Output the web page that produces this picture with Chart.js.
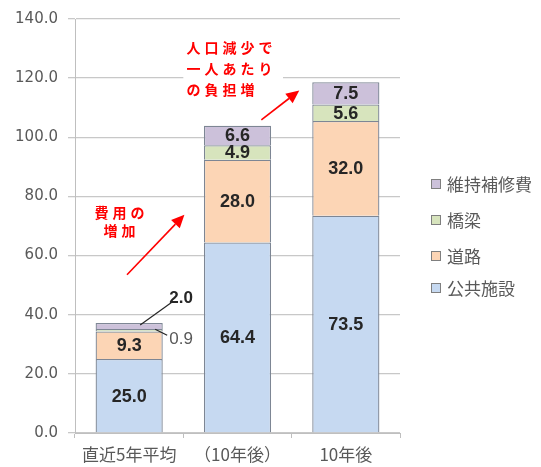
<!DOCTYPE html>
<html><head><meta charset="utf-8">
<script src="https://cdn.jsdelivr.net/npm/chart.js@4/dist/chart.umd.min.js"></script>
<style>html,body{margin:0;padding:0;background:#fff;}#wrap{width:541px;height:467px;position:relative;}</style>
</head><body><div id="wrap"><canvas id="c" width="541" height="467"></canvas></div>
<script>
const categories = ["直近5年平均", "（10年後）", "10年後"];
const seriesNames = ["公共施設", "道路", "橋梁", "維持補修費"];
const publicFacilities = [25.0, 64.4, 73.5];
const roads = [9.3, 28.0, 32.0];
const bridges = [0.9, 4.9, 5.6];
const maintenance = [2.0, 6.6, 7.5];
const yTicks = [0, 20, 40, 60, 80, 100, 120, 140];
const fills = ["#c6d9f1", "#fcd5b5", "#d7e4bd", "#ccc1da"];
const noteTop = ["人口減少で", "一人あたり", "の負担増"];
const noteLeft = ["費用の", "増加"];

const CJK = '"Noto Sans CJK JP", "Noto Sans", sans-serif';
const values = [publicFacilities, roads, bridges, maintenance];

const labelPlugin = {
  id: 'labels',
  afterDatasetsDraw(chart) {
    const ctx = chart.ctx;
    ctx.save();
    ctx.textAlign = 'center';
    ctx.textBaseline = 'middle';
    chart.data.datasets.forEach((ds, di) => {
      const meta = chart.getDatasetMeta(di);
      meta.data.forEach((el, i) => {
        const v = ds.data[i];
        const txt = v.toFixed(1);
        const cy = (el.y + el.base) / 2;
        if (i === 0 && di >= 2) {
          ctx.strokeStyle = '#262626';
          ctx.lineWidth = 1.2;
          ctx.beginPath();
          if (di === 3) {
            ctx.moveTo(el.x + 11, cy - 1);
            ctx.lineTo(el.x + 43, cy - 24);
            ctx.stroke();
            ctx.fillStyle = '#262626';
            ctx.font = 'bold 17px "Liberation Sans", Arial, sans-serif';
            ctx.fillText(txt, el.x + 52, cy - 28);
          } else {
            ctx.moveTo(el.x + 26, cy - 1);
            ctx.lineTo(el.x + 38, cy + 5);
            ctx.stroke();
            ctx.fillStyle = '#595959';
            ctx.font = '17px "Liberation Sans", Arial, sans-serif';
            ctx.fillText(txt, el.x + 52, cy + 9);
          }
          return;
        }
        ctx.fillStyle = '#262626';
        ctx.font = 'bold 18px "Liberation Sans", Arial, sans-serif';
        ctx.fillText(txt, el.x, cy + 1);
      });
    });
    ctx.restore();
  },
  afterDraw(chart) {
    const ctx = chart.ctx;
    const xs = chart.scales.x, ys = chart.scales.y;
    const X = v => xs.getPixelForValue(0) + v * (xs.getPixelForValue(1) - xs.getPixelForValue(0));
    const Y = v => ys.getPixelForValue(v);
    ctx.save();
    ctx.fillStyle = '#fff';
    ctx.fillRect(X(0.5), Y(133), X(1.42) - X(0.5), Y(113) - Y(133));
    function arrow(x1, y1, x2, y2) {
      ctx.strokeStyle = '#ff0000';
      ctx.fillStyle = '#ff0000';
      ctx.lineWidth = 1.6;
      const a = Math.atan2(y2 - y1, x2 - x1);
      const hl = 13, hw = 6;
      const bx = x2 - hl * Math.cos(a), by = y2 - hl * Math.sin(a);
      ctx.beginPath(); ctx.moveTo(x1, y1); ctx.lineTo(bx, by); ctx.stroke();
      ctx.beginPath();
      ctx.moveTo(x2, y2);
      ctx.lineTo(bx + hw * Math.sin(a), by - hw * Math.cos(a));
      ctx.lineTo(bx - hw * Math.sin(a), by + hw * Math.cos(a));
      ctx.closePath(); ctx.fill();
    }
    arrow(X(-0.02), Y(53.5), X(0.51), Y(73.8));
    arrow(X(1.22), Y(105.9), X(1.57), Y(115.8));
    ctx.fillStyle = '#ff0000';
    ctx.font = 'bold 14px ' + CJK;
    ctx.textBaseline = 'middle';
    ctx.textAlign = 'left';
    const adv = 18;
    noteTop.forEach((line, li) => {
      const y = Y(130.3 - li * 7.1);
      [...line].forEach((ch, k) => ctx.fillText(ch, X(0.53) + k * adv, y));
    });
    noteLeft.forEach((line, li) => {
      const y = Y(74.5 - li * 6.0);
      const w = line.length * adv;
      const cx = X(-0.08);
      [...line].forEach((ch, k) => ctx.fillText(ch, cx - w / 2 + k * adv + 1, y));
    });
    const legY = [184, 220, 256, 288];
    ctx.font = '17px ' + CJK;
    ctx.textBaseline = 'middle';
    for (let k = 3; k >= 0; k--) {
      const y = legY[3 - k];
      ctx.fillStyle = fills[k];
      ctx.fillRect(431, y - 5, 10, 10);
      ctx.strokeStyle = '#7f7f7f';
      ctx.lineWidth = 1;
      ctx.strokeRect(431.5, y - 4.5, 9, 9);
      ctx.fillStyle = '#595959';
      ctx.fillText(seriesNames[k], 447, y + 1);
    }
    ctx.restore();
  }
};

new Chart(document.getElementById('c'), {
  type: 'bar',
  data: {
    labels: categories,
    datasets: values.map((d, i) => ({
      label: seriesNames[i],
      data: d,
      backgroundColor: fills[i],
      borderColor: '#7d8694',
      borderWidth: 1.3,
      borderSkipped: 'start',
      categoryPercentage: 1,
      barPercentage: 0.62
    }))
  },
  options: {
    responsive: false,
    animation: false,
    devicePixelRatio: 1,
    layout: { padding: { top: 14, right: 141, bottom: 0, left: 0 } },
    plugins: { legend: { display: false }, tooltip: { enabled: false } },
    scales: {
      x: {
        stacked: true,
        afterFit(s) { s.height = 34; },
        grid: { display: true, drawOnChartArea: false, drawTicks: true, tickLength: 5, color: '#bfbfbf', offset: true },
        border: { color: '#bfbfbf' },
        ticks: { color: '#595959', font: { family: CJK, size: 17 }, padding: 6, maxRotation: 0, autoSkip: false }
      },
      y: {
        stacked: true,
        min: 0, max: 140,
        afterFit(s) { s.width = 75; },
        afterBuildTicks(s) { s.ticks = yTicks.map(v => ({ value: v })); },
        grid: { color: '#c8c8c8', tickLength: 7, lineWidth: 1.3 },
        border: { color: '#bfbfbf' },
        ticks: { color: '#595959', font: { family: '"DejaVu Sans", sans-serif', size: 15 }, padding: 10, callback: v => v.toFixed(1) }
      }
    }
  },
  plugins: [labelPlugin]
});
</script></body></html>
